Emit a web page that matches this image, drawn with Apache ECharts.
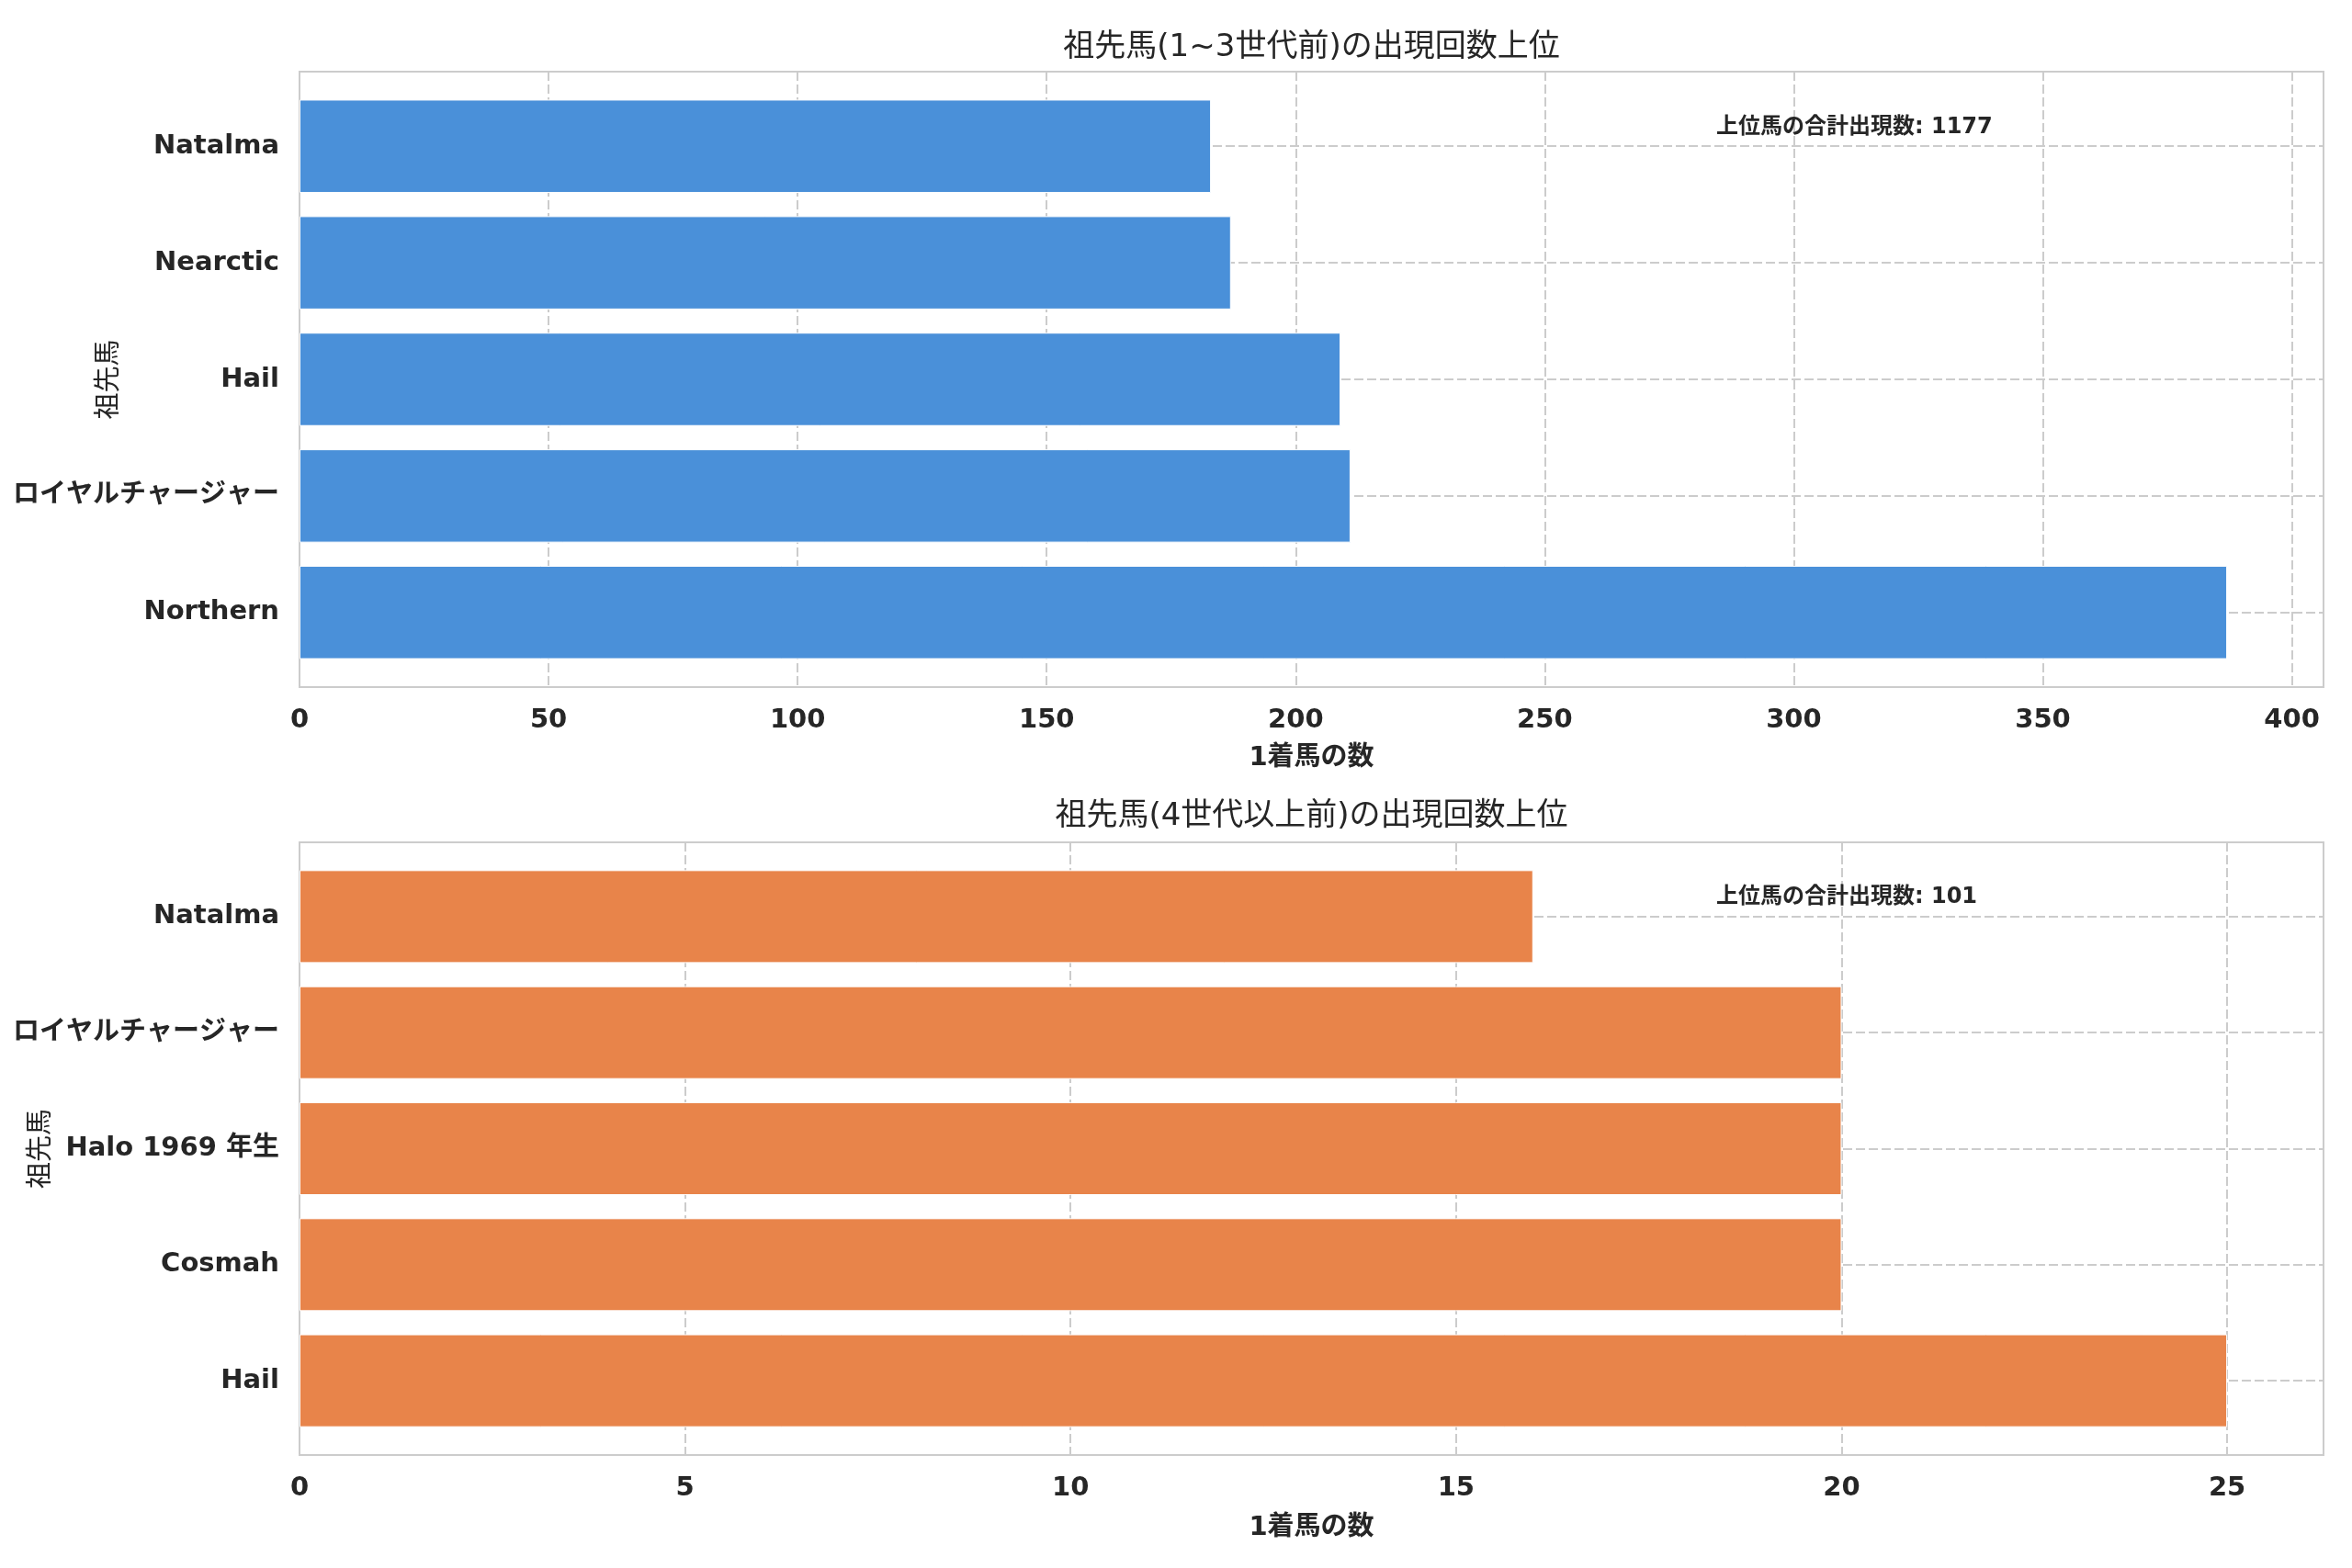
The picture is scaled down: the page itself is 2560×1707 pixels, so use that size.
<!DOCTYPE html>
<html>
<head>
<meta charset="utf-8">
<script src="https://cdn.jsdelivr.net/npm/echarts@6/dist/echarts.min.js"></script>
<style>
html,body{margin:0;padding:0;background:#fff;}
#main{width:2560px;height:1707px;}
</style>
</head>
<body>
<div id="main"></div>
<script>
// 上段 1~3世代前（下から上の順）
var topNames = ['Northern', 'ロイヤルチャージャー', 'Hail', 'Nearctic', 'Natalma'];
var topValues = [387, 211, 209, 187, 183];
// 下段 4世代以上前（下から上の順）
var bottomNames = ['Hail', 'Cosmah', 'Halo 1969 年生', 'ロイヤルチャージャー', 'Natalma'];
var bottomValues = [25, 20, 20, 20, 16];
// 目盛り間隔
var topInterval = 50;
var bottomInterval = 5;
// テキスト
var titles = ['祖先馬(1~3世代前)の出現回数上位', '祖先馬(4世代以上前)の出現回数上位'];
var xName = '1着馬の数';
var yName = '祖先馬';
var noteLabel = '上位馬の合計出現数';

var FONT = "'DejaVu Sans', 'Noto Sans CJK JP', sans-serif";
var TXT = '#262626';
var GRIDC = '#cccccc';

var chart = echarts.init(document.getElementById('main'));

var L = 326, R = 31;
var panels = [
  {names: topNames, values: topValues, step: topInterval, top: 78, h: 670, color: '#4A90D9', yGap: 192, xGap: 63, tTop: 35, nTop: 127},
  {names: bottomNames, values: bottomValues, step: bottomInterval, top: 917, h: 667, color: '#E8844A', yGap: 266, xGap: 65, tTop: 872, nTop: 965}
];

var grids = [], xAxes = [], yAxes = [], series = [], graphics = [], titleList = [];

panels.forEach(function (p, i) {
  var unit = p.h / 5.28;           // 5本 + 余白
  var vmax = Math.max.apply(null, p.values) * 1.05;
  var total = p.values.reduce(function (a, b) { return a + b; }, 0);

  // 枠と縦グリッド用
  grids.push({left: L, right: R, top: p.top, height: p.h, show: true, outerBoundsMode: 'none',
    borderColor: GRIDC, borderWidth: 2, backgroundColor: 'transparent'});
  // 棒グラフ用（カテゴリ位置を合わせるため内側）
  grids.push({left: L, right: R, top: p.top + unit * 0.64, height: unit * 4, outerBoundsMode: 'none'});

  xAxes.push({
    gridIndex: i * 2, type: 'value', min: 0, max: vmax, interval: p.step,
    name: xName, nameLocation: 'middle', nameGap: p.xGap, nameMoveOverlap: false,
    nameTextStyle: {fontSize: 29, fontWeight: 'bold', color: TXT, fontFamily: FONT},
    axisLine: {show: false}, axisTick: {show: false},
    axisLabel: {fontSize: 29, fontWeight: 'bold', color: TXT, fontFamily: FONT, margin: 22,
      formatter: function (v) { return v % p.step === 0 ? String(v) : ''; }},
    splitLine: {show: true, lineStyle: {color: GRIDC, width: 2, type: [10, 4]}}
  });
  xAxes.push({gridIndex: i * 2 + 1, type: 'value', min: 0, max: vmax, show: false});

  yAxes.push({gridIndex: i * 2, type: 'value', show: false});
  yAxes.push({
    gridIndex: i * 2 + 1, type: 'category', data: p.names, boundaryGap: false,
    name: yName, nameLocation: 'middle', nameRotate: 90, nameGap: p.yGap, nameMoveOverlap: false,
    nameTextStyle: {fontSize: 29, color: TXT, fontFamily: FONT},
    axisLine: {show: false}, axisTick: {show: false},
    axisLabel: {interval: 0, fontSize: 29, fontWeight: 'bold', color: TXT, fontFamily: FONT, margin: 22,
      padding: [6, 0, 0, 0]},
    splitLine: {show: true, lineStyle: {color: GRIDC, width: 2, type: [10, 4]}}
  });

  series.push({
    type: 'bar', xAxisIndex: i * 2 + 1, yAxisIndex: i * 2 + 1,
    data: p.values, barWidth: unit * 0.8,
    itemStyle: {color: p.color, borderColor: '#ffffff', borderWidth: 1},
    silent: true, animation: false
  });

  titleList.push({
    text: titles[i], left: L + (2560 - L - R) / 2, textAlign: 'center',
    top: p.tTop, padding: 0,
    textStyle: {fontSize: 34, fontWeight: 'normal', color: TXT, fontFamily: FONT}
  });

  graphics.push({
    type: 'text', left: 1868, top: p.nTop, z: 10,
    style: {text: noteLabel + ': ' + total, fill: TXT, font: 'bold 24px ' + FONT}
  });
});

chart.setOption({
  backgroundColor: '#ffffff',
  animation: false,
  title: titleList,
  grid: grids,
  xAxis: xAxes,
  yAxis: yAxes,
  series: series,
  graphic: graphics
});
</script>
</body>
</html>
